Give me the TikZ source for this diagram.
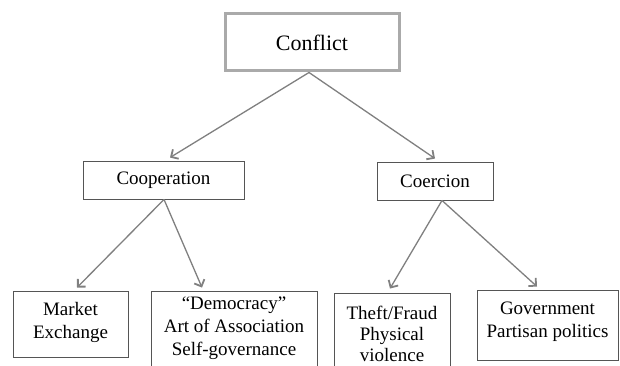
\documentclass[tikz,border=0pt]{standalone}
\usepackage{fontspec}
\setmainfont{Liberation Serif}
\newfontfamily\tnr{Liberation Serif}
\usetikzlibrary{arrows.meta}
\definecolor{arrgray}{RGB}{128,128,128}
\definecolor{boxgray}{RGB}{85,85,85}
\definecolor{topgray}{RGB}{170,170,170}
\tikzset{
  box/.style={draw=boxgray, line width=0.9pt, rectangle, inner sep=0pt, fill=white},
  topbox/.style={draw=topgray, line width=3pt, rectangle, inner sep=0pt, fill=white,
    font=\tnr\fontsize{22}{26}\selectfont},
  lbl/.style={align=center, inner sep=0pt, font=\tnr\fontsize{19}{23}\selectfont},
  arr/.style={draw=arrgray, line width=1.3pt, -{Straight Barb[length=5.5pt,width=11pt,line width=1.8pt]}}
}
\begin{document}
\begin{tikzpicture}[x=1pt,y=-1pt]
\clip (0,0) rectangle (620,366);
\fill[white] (0,0) rectangle (620,366);
% boxes
\node[topbox, minimum width=174pt, minimum height=57pt] (conflict) at (312,42.5) {Conflict};
\node[box, minimum width=161pt, minimum height=38pt, font=\tnr\fontsize{19}{23}\selectfont] (coop) at (163.5,180) {Cooperation};
\node[box, minimum width=116pt, minimum height=38pt, font=\tnr\fontsize{19}{23}\selectfont] (coer) at (435,181) {Coercion};
\node[box, minimum width=115pt, minimum height=66pt] (market) at (70.5,324) {};
\node[box, minimum width=166pt, minimum height=89pt] (demo) at (234,335.5) {};
\node[box, minimum width=116pt, minimum height=87pt] (theft) at (392,336.5) {};
\node[box, minimum width=141pt, minimum height=70pt] (gov) at (547.5,325) {};
% texts
\node[lbl] (markett) at (70.5,322) {Market\\Exchange};
\node[lbl] (demot) at (234,328) {“Democracy”\\Art of Association\\Self-governance};
\node[lbl, font=\tnr\fontsize{19}{21}\selectfont] (theftt) at (392,334) {Theft/Fraud\\Physical\\violence};
\node[lbl] (govt) at (547.5,322) {Government\\Partisan politics};
% connectors
\draw[arr] ([xshift=-3pt]conflict.south) -- ([xshift=6.5pt,yshift=3pt]coop.north);
\draw[arr] ([xshift=-3pt]conflict.south) -- ([yshift=3pt]coer.north);
\draw[arr] ([xshift=0.5pt]coop.south) -- ([xshift=6.5pt,yshift=3pt]market.north);
\draw[arr] ([xshift=0.5pt]coop.south) -- ([xshift=-32pt,yshift=3pt]demo.north);
\draw[arr] ([xshift=7pt]coer.south) -- ([xshift=-2pt,yshift=4pt]theft.north);
\draw[arr] ([xshift=7pt]coer.south) -- ([xshift=-10.5pt,yshift=3pt]gov.north);
\end{tikzpicture}
\end{document}
